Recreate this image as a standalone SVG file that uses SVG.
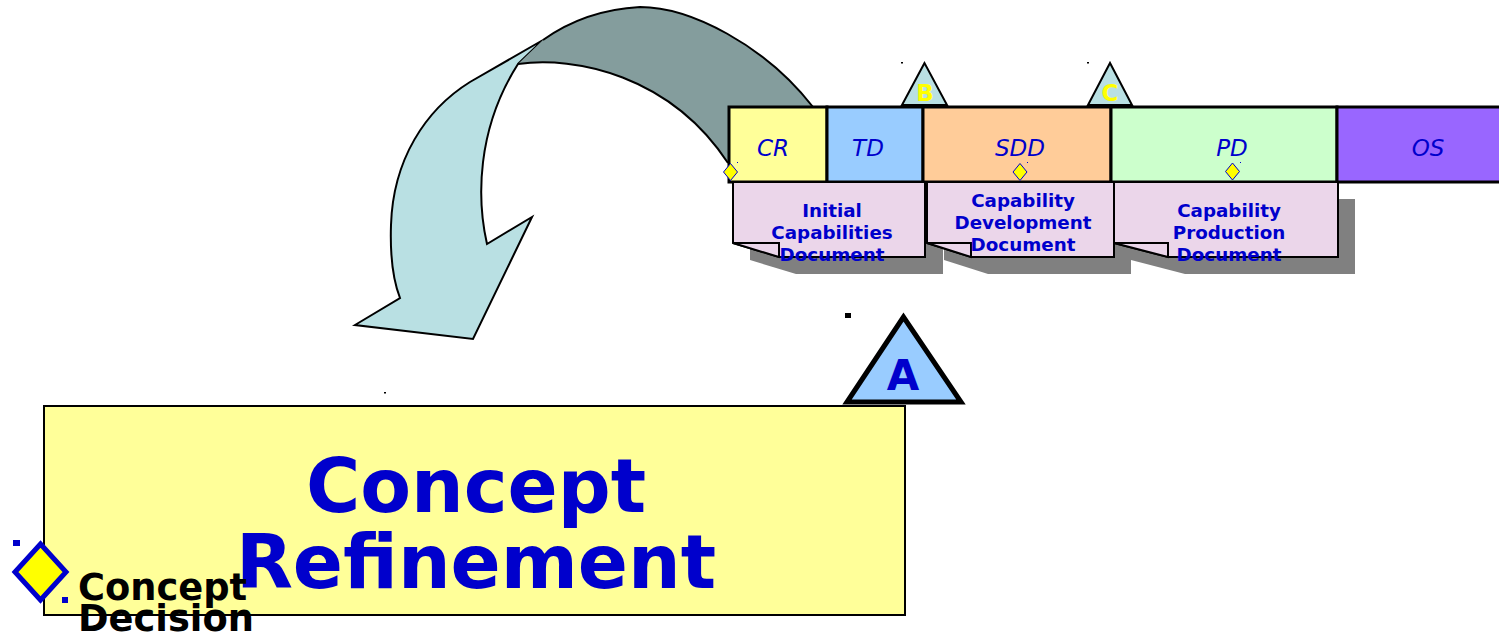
<svg xmlns="http://www.w3.org/2000/svg" width="1499" height="633" viewBox="0 0 1499 633">
<style>
.ph{stroke:#000;stroke-width:3}
.pl{font-family:"DejaVu Sans","Liberation Sans",sans-serif;font-style:italic;font-size:23px;fill:#0000CC;text-anchor:middle}
.doc{fill:#EBD6EA;stroke:#000;stroke-width:2;stroke-linejoin:miter}
.shd{fill:#808080}
.dt{font-family:"DejaVu Sans","Liberation Sans",sans-serif;font-weight:bold;font-size:18.3px;fill:#0000CC;text-anchor:middle}
.ms{fill:#B9E0E3;stroke:#000;stroke-width:2}
.ml{font-family:"DejaVu Sans","Liberation Sans",sans-serif;font-weight:bold;font-size:23px;fill:#FFFF00;text-anchor:middle}
.dm{fill:#FFFF00;stroke:#0000CC;stroke-width:1}
</style>
<rect width="1499" height="633" fill="#fff"/>
<g id="curved-arrow">
<path d="M543,40 L470,82 C425,110 393,160 391,225 C390,255 393,280 400,298 L355,325 L473,339 L532,217 L487,244 C477,200 476,130 518,64 Z" fill="#B9E0E3" stroke="#000" stroke-width="2" stroke-linejoin="miter"/>
<path d="M543,40 Q585,10 640,7 C690,7 765,45 813,107 L760,175 L728,163 C670,75 575,56 518,64 Z" fill="#849D9D"/>
<path d="M543,40 Q585,10 640,7 C690,7 765,45 813,107" fill="none" stroke="#000" stroke-width="2"/>
<path d="M518,64 C575,56 670,75 728,163" fill="none" stroke="#000" stroke-width="2"/>
</g>
<g id="phases">
<rect class="ph" x="729" y="107" width="98" height="75" fill="#FFFF99"/>
<rect class="ph" x="827" y="107" width="96" height="75" fill="#99CCFF"/>
<rect class="ph" x="923" y="107" width="188" height="75" fill="#FFCC99"/>
<rect class="ph" x="1111" y="107" width="226" height="75" fill="#CCFFCC"/>
<rect class="ph" x="1337" y="107" width="165" height="75" fill="#9966FF"/>
<text class="pl" x="773" y="156">CR</text>
<text class="pl" x="868" y="156">TD</text>
<text class="pl" x="1020" y="156">SDD</text>
<text class="pl" x="1232" y="156">PD</text>
<text class="pl" x="1428" y="156">OS</text>
</g>
<g id="milestone-B">
<rect x="901" y="62" width="2" height="1.5" fill="#000"/>
<polygon class="ms" points="924.5,63 902,105 947,105"/>
<text class="ml" x="925" y="101">B</text>
</g>
<g id="milestone-C">
<rect x="1087" y="62" width="2" height="1.5" fill="#000"/>
<polygon class="ms" points="1110,63 1088,105 1132,105"/>
<text class="ml" x="1110" y="101">C</text>
</g>
<g id="doc-icd">
<path class="shd" d="M750,199 H943 V274 H796 L750,260 Z"/>
<path class="doc" d="M733,182 H925 V257 H779 L733,243 Z"/>
<path class="doc" d="M733,243 H779 V257 Z"/>
<text class="dt" x="832" y="217">Initial</text>
<text class="dt" x="832" y="239">Capabilities</text>
<text class="dt" x="832" y="261">Document</text>
</g>
<g id="doc-cdd">
<path class="shd" d="M944,199 H1131 V274 H988 L944,260 Z"/>
<path class="doc" d="M927,182 H1114 V257 H971 L927,243 Z"/>
<path class="doc" d="M927,243 H971 V257 Z"/>
<text class="dt" x="1023" y="207">Capability</text>
<text class="dt" x="1023" y="229">Development</text>
<text class="dt" x="1023" y="251">Document</text>
</g>
<g id="doc-cpd">
<path class="shd" d="M1131,199 H1355 V274 H1185 L1131,260 Z"/>
<path class="doc" d="M1114,182 H1338 V257 H1168 L1114,243 Z"/>
<path class="doc" d="M1114,243 H1168 V257 Z"/>
<text class="dt" x="1229" y="217">Capability</text>
<text class="dt" x="1229" y="239">Production</text>
<text class="dt" x="1229" y="261">Document</text>
</g>
<g id="decision-points">
<polygon class="dm" points="730.5,163.5 737.5,172 730.5,180.5 723.5,172"/>
<polygon class="dm" points="1020,163.5 1027,172 1020,180.5 1013,172"/>
<polygon class="dm" points="1232.5,163 1239.5,171.5 1232.5,180 1225.5,171.5"/>
<rect x="737" y="162" width="1" height="1" fill="#0000CC"/>
<rect x="1027" y="162" width="1" height="1" fill="#0000CC"/>
<rect x="1240" y="162" width="1" height="1" fill="#0000CC"/>
</g>
<g id="concept-refinement">
<rect x="44" y="406" width="861" height="209" fill="#FFFF99" stroke="#000" stroke-width="2"/>
<text x="476" y="512" font-family="DejaVu Sans, Liberation Sans, sans-serif" font-weight="bold" font-size="74" fill="#0000CC" text-anchor="middle">Concept</text>
<text x="476" y="588" font-family="DejaVu Sans, Liberation Sans, sans-serif" font-weight="bold" font-size="74" fill="#0000CC" text-anchor="middle">Refinement</text>
</g>
<g id="milestone-A">
<rect x="845" y="313" width="6" height="5" fill="#000"/>
<polygon points="903.5,317 847,402 961,402" fill="#99CCFF" stroke="#000" stroke-width="5"/>
<text x="903" y="390" font-family="DejaVu Sans, Liberation Sans, sans-serif" font-weight="bold" font-size="42" fill="#0000CC" text-anchor="middle">A</text>
</g>
<rect x="384" y="392" width="2" height="1.5" fill="#000"/>
<g id="concept-decision">
<rect x="13" y="540" width="7" height="6" fill="#0000CC"/>
<rect x="62" y="597" width="6" height="6" fill="#0000CC"/>
<polygon points="40.5,544 66,572 40.5,600 15,572" fill="#FFFF00" stroke="#0000CC" stroke-width="5"/>
<text x="78" y="600" font-family="DejaVu Sans, Liberation Sans, sans-serif" font-weight="bold" font-size="36.8" fill="#000">Concept</text>
<text x="78" y="631" font-family="DejaVu Sans, Liberation Sans, sans-serif" font-weight="bold" font-size="36.8" fill="#000">Decision</text>
</g>
</svg>
